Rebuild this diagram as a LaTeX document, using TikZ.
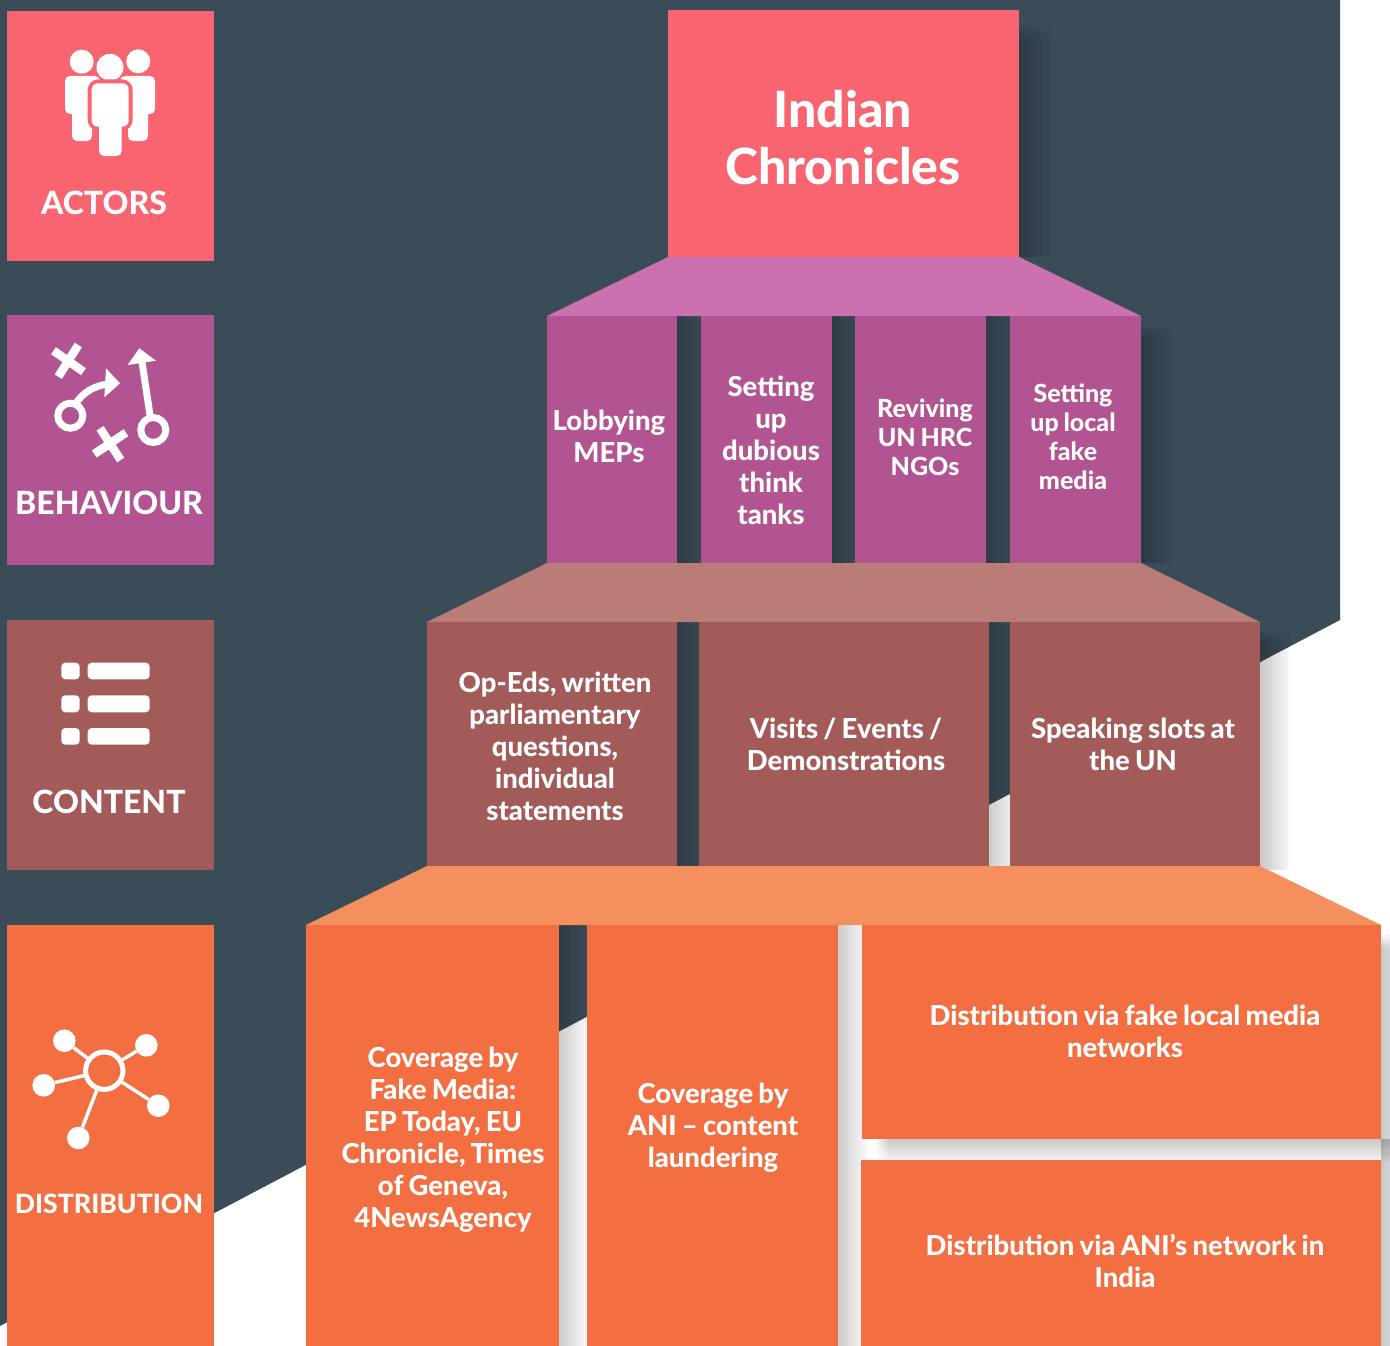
\documentclass[tikz,border=0pt]{standalone}
\usepackage{fontspec}
\setmainfont{Lato}[BoldFont={Lato Heavy},WordSpace=0.8]
\usetikzlibrary{fadings}
\definecolor{bgdark}{HTML}{3B4C59}
\definecolor{cred}{HTML}{F86470}
\definecolor{cpur}{HTML}{B25492}
\definecolor{cpurl}{HTML}{CC71AF}
\definecolor{cbro}{HTML}{A35B5A}
\definecolor{cbrol}{HTML}{BA7C76}
\definecolor{cora}{HTML}{F36E40}
\definecolor{coral}{HTML}{F68F5E}
\tikzfading[name=fadeE, left color=transparent!80, middle color=transparent!84, right color=transparent!100]
\tikzfading[name=fadeEl, left color=transparent!95.5, middle color=transparent!96.4, right color=transparent!100]
\tikzfading[name=fadeSl, top color=transparent!95.5, middle color=transparent!96, bottom color=transparent!100]
\tikzset{
  txt/.style={text=white,font=\bfseries\fontsize{27.5}{32}\selectfont,align=center,inner sep=0pt},
  txtb/.style={text=white,font=\bfseries\fontsize{25}{29}\selectfont,align=center,inner sep=0pt},
  head/.style={text=white,font=\bfseries\fontsize{32}{38}\selectfont,align=center,inner sep=0pt},
  title/.style={text=white,font=\bfseries\fontsize{50}{57}\selectfont,align=center,inner sep=0pt},
  ico/.style={line width=7pt,white},
  dot/.style={circle,fill=white,minimum size=22.6pt,inner sep=0pt},
  shE/.style={fill=black,path fading=fadeE},
  shEl/.style={fill=black,path fading=fadeEl},
  shSl/.style={fill=black,path fading=fadeSl}
}
% hard-topped shadow to the right of a box
\newcommand{\shR}[3]{\fill[shE] (#1,#2) rectangle ++(32,#3-#2);}
% shadow with a soft upper end: overlapping faint layers, each starting a little lower
\newcommand{\shT}[3]{%
  \foreach \i in {0,...,4}{\begin{scope}\clip (#1,#2+3*\i) rectangle (#1+32,#3);\fill[shEl] (#1,#2) rectangle ++(32,#3-#2);\end{scope}}}
\begin{document}
\begin{tikzpicture}[x=1pt,y=-1pt]
\useasboundingbox (0,0) rectangle (1390,1346);
\fill[white] (0,0) rectangle (1390,1346);
\fill[bgdark] (0,0) -- (1340,0) -- (1340,620) -- (0,1326) -- cycle;
% shadows
\shT{1019}{26}{257}
\shR{677}{316}{563}\shR{832}{316}{563}\shR{986}{316}{563}\shT{1141}{325}{563}
\shR{677}{622}{866}\shR{989}{622}{866}\shT{1260}{630}{870}
\shR{559}{925}{1346}\shR{838}{925}{1346}\shT{1381}{935}{1346}
\foreach \i in {0,...,4}{\begin{scope}\clip (876+3*\i,1139) rectangle (1390,1164);\fill[shSl] (876,1139) rectangle (1390,1164);\end{scope}}
% left column
\fill[cred] (7,11) rectangle (214,261);
\fill[cpur] (7,315) rectangle (214,565);
\fill[cbro] (7,620) rectangle (214,870);
\fill[cora] (7,925) rectangle (214,1346);
% title and tiers
\fill[cred] (668,10) rectangle (1019,257);
\fill[cpurl] (668,257) -- (1019,257) -- (1141,316) -- (547,316) -- cycle;
\fill[cpur] (547,316) rectangle (677,563);
\fill[cpur] (701,316) rectangle (832,563);
\fill[cpur] (855,316) rectangle (986,563);
\fill[cpur] (1010,316) rectangle (1141,563);
\fill[cbrol] (547,563) -- (1141,563) -- (1260,622) -- (427,622) -- cycle;
\fill[cbro] (427,622) rectangle (677,866);
\fill[cbro] (699,622) rectangle (989,866);
\fill[cbro] (1010,622) rectangle (1260,866);
\fill[coral] (427,866) -- (1260,866) -- (1381,925) -- (306,925) -- cycle;
\fill[cora] (306,925) rectangle (559,1346);
\fill[cora] (587,925) rectangle (838,1346);
\fill[cora] (862,925) rectangle (1381,1139);
\fill[cora] (861,1160) rectangle (1381,1346);
% actors icon
\fill[white,rounded corners=5pt] (65,76) rectangle (100,114);
\fill[white,rounded corners=5pt] (72,100) rectangle (92,141);
\fill[white,rounded corners=5pt] (120,76) rectangle (155,114);
\fill[white,rounded corners=5pt] (128,100) rectangle (148,141);
\fill[white] (81.7,61.7) circle (12);
\fill[white] (138.3,61.3) circle (12);
\fill[white] (110,67.3) circle (13.5);
\draw[cred,line width=8pt,fill=white,rounded corners=7pt] (91.7,83.3) rectangle (128.7,126.7);
\draw[cred,line width=8pt,fill=white,rounded corners=5pt] (99,115) rectangle (121.7,156);
\fill[white,rounded corners=6pt] (91.7,83.3) rectangle (128.7,126.7);
\fill[white,rounded corners=5pt] (99,110) rectangle (121.7,156);
% behaviour icon
\draw[white,line width=8.5pt] (53.5,350.7) -- (83.5,371.7) (78.3,345) -- (58.3,376.7);
\draw[white,line width=8.5pt] (94.3,454) -- (126,432.7) (100,428.3) -- (120.7,460);
\draw[ico] (70.3,415.7) circle (12.5);
\draw[ico] (153.3,430) circle (12.5);
\draw[ico] (76,403) .. controls (83,393) and (93,386) .. (108,384);
\fill[white] (106,368.3) -- (120,383.3) -- (104.3,397.3) -- cycle;
\draw[ico] (150,415) -- (141.7,360);
\fill[white] (139.3,348.3) -- (156,360.7) -- (127.7,365) -- cycle;
% content icon
\foreach \yy/\zz in {662.7/679.3,695.3/712.3,728/744.7}{
  \fill[white,rounded corners=4pt] (61.3,\yy) rectangle (79.7,\zz);
  \fill[white,rounded corners=4pt] (87.7,\yy) rectangle (149.7,\zz);
}
% distribution icon
\node[circle,draw=white,line width=5pt,minimum size=37.4pt,inner sep=0pt] (hub) at (104.3,1070.7) {};
\node[dot] (s1) at (64.3,1040.7) {};
\node[dot] (s2) at (146.3,1045.3) {};
\node[dot] (s3) at (43.7,1085.3) {};
\node[dot] (s4) at (158.3,1105.7) {};
\node[dot] (s5) at (78.3,1138) {};
\foreach \s in {s1,s2,s3,s4,s5}{\draw[white,line width=3.5pt] (hub) -- (\s);}
% labels
\node[head] (lactors) at (104,203) {ACTORS};
\node[head] (lbeh) at (109,503) {BEHAVIOUR};
\node[head] (lcon) at (109,802) {CONTENT};
\node[head,font=\bfseries\fontsize{26.6}{32}\selectfont] (ldis) at (109,1203.5) {DISTRIBUTION};
\node[title] (tt) at (843,138) {Indian\\Chronicles};
\node[txt] (b1) at (609,436.5) {Lobbying\\MEPs};
\node[txt] (b2) at (771,450.5) {Setting\\up\\dubious\\think\\tanks};
\node[txtb] (b3) at (925,437) {Reviving\\UN HRC\\NGOs};
\node[txtb] (b4) at (1073,437) {Setting\\up local\\fake\\media};
\node[txt] (c1) at (555,746.5) {Op-Eds, written\\parliamentary\\questions,\\individual\\statements};
\node[txt] (c2) at (846,744.5) {Visits / Events /\\Demonstrations};
\node[txt] (c3) at (1133,744.5) {Speaking slots at\\the UN};
\node[txt] (d1) at (443,1140) {Coverage by\\Fake Media:\\EP Today, EU\\Chronicle, Times\\of Geneva,\\4NewsAgency};
\node[txt] (d2) at (713,1128) {Coverage by\\ANI – content\\laundering};
\node[txt] (d3) at (1125,1031.5) {Distribution via fake local media\\networks};
\node[txt] (d4) at (1125,1260.5) {Distribution via ANI’s network in\\India};
\end{tikzpicture}
\end{document}
